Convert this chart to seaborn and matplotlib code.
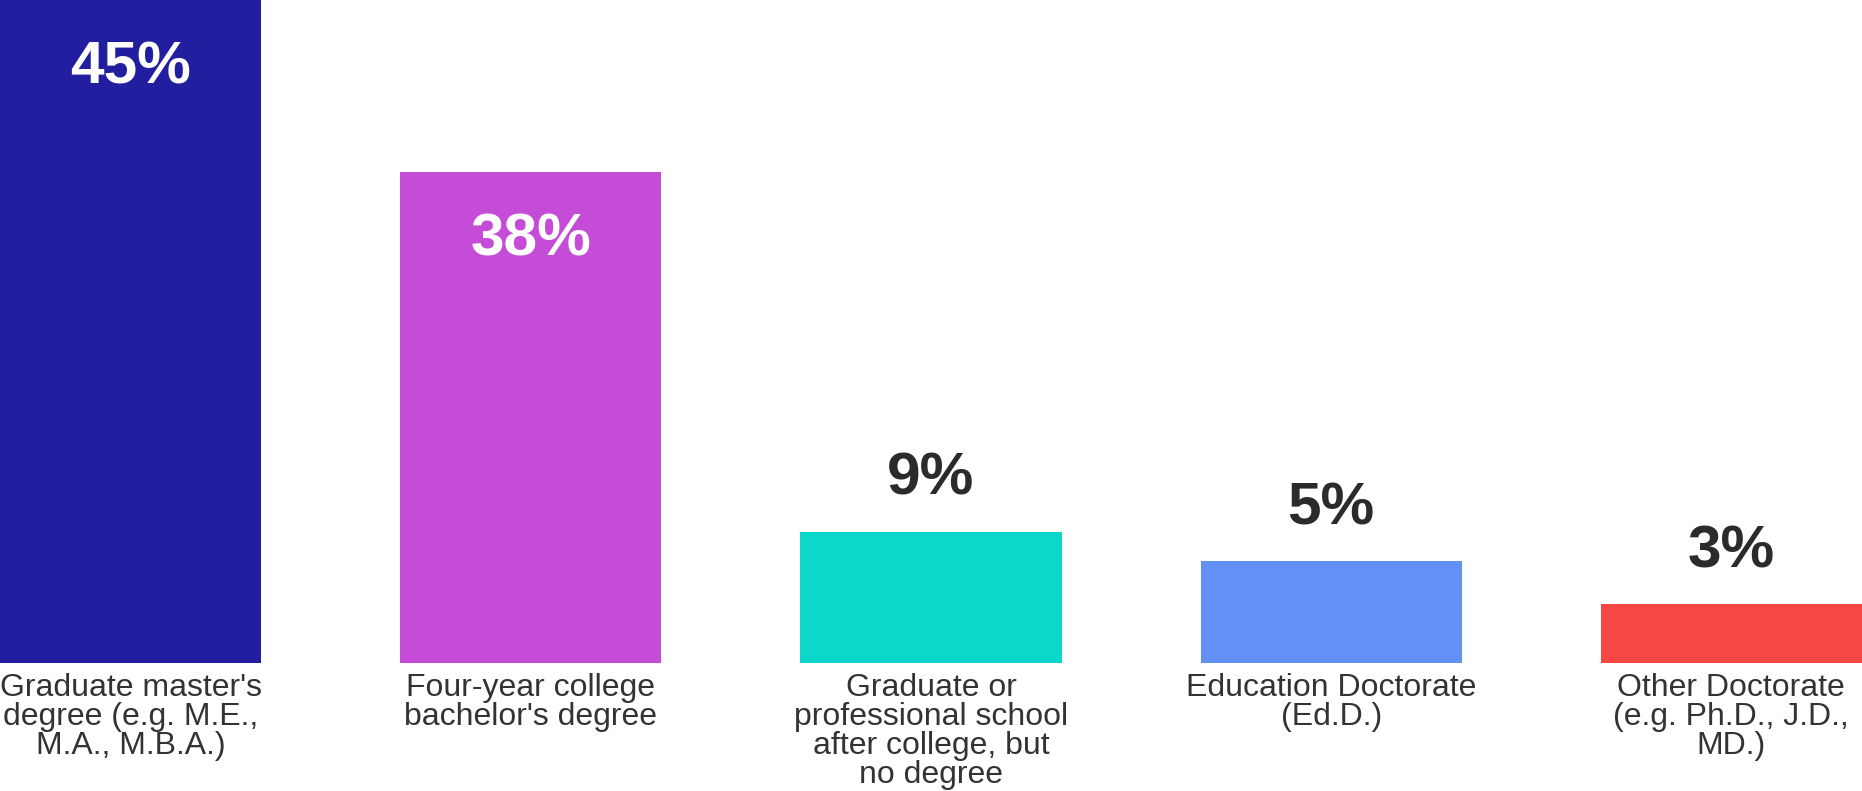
import matplotlib
matplotlib.use("Agg")
import matplotlib.pyplot as plt
import seaborn as sns
import pandas as pd

# --- data ---
categories = [
    "Graduate master's\ndegree (e.g. M.E.,\nM.A., M.B.A.)",
    "Four-year college\nbachelor's degree",
    "Graduate or\nprofessional school\nafter college, but\nno degree",
    "Education Doctorate\n(Ed.D.)",
    "Other Doctorate\n(e.g. Ph.D., J.D.,\nMD.)",
]
value_labels = ["45%", "38%", "9%", "5%", "3%"]
# bar heights as drawn in the reference (percent-axis units, axis top = 45)
bar_heights = [45, 33.3, 8.9, 6.9, 4.0]
colors = ["#211FA0", "#C54CD7", "#0DD7CB", "#6191F5", "#F54845"]
inside_label = [True, True, False, False, False]

sns.set_theme(style="white")
plt.rcParams["font.family"] = ["Liberation Sans", "DejaVu Sans"]

df = pd.DataFrame({"category": categories, "height": bar_heights})

fig = plt.figure(figsize=(18.62, 7.91), dpi=100)
ax = fig.add_axes([0, 128 / 791, 1, 663 / 791])

sns.barplot(data=df, x="category", y="height", hue="category",
            palette=colors, saturation=1, width=0.653, legend=False,
            linewidth=0, ax=ax)

ax.set_xlim(-0.3265, 4.3265)
ax.set_ylim(0, 45)
ax.set_xlabel("")
ax.set_ylabel("")
ax.set_yticks([])
for s in ax.spines.values():
    s.set_visible(False)

ax.tick_params(axis="x", length=0, pad=7.5)
for lbl in ax.get_xticklabels():
    lbl.set_fontsize(23)
    lbl.set_color("#333333")
    lbl.set_linespacing(0.95)
    lbl.set_ha("center")
    lbl.set_multialignment("center")

for i, (h, txt, inside) in enumerate(zip(bar_heights, value_labels, inside_label)):
    if inside:
        ax.annotate(txt, xy=(i, h), xytext=(0, -29), textcoords="offset points",
                    ha="center", va="top", fontsize=43.5, fontweight="bold",
                    color="white")
    else:
        ax.annotate(txt, xy=(i, h), xytext=(0, 26.6), textcoords="offset points",
                    ha="center", va="baseline", fontsize=43.5, fontweight="bold",
                    color="#2b2b2b")

fig.savefig("out.png", dpi=100, facecolor="white")
